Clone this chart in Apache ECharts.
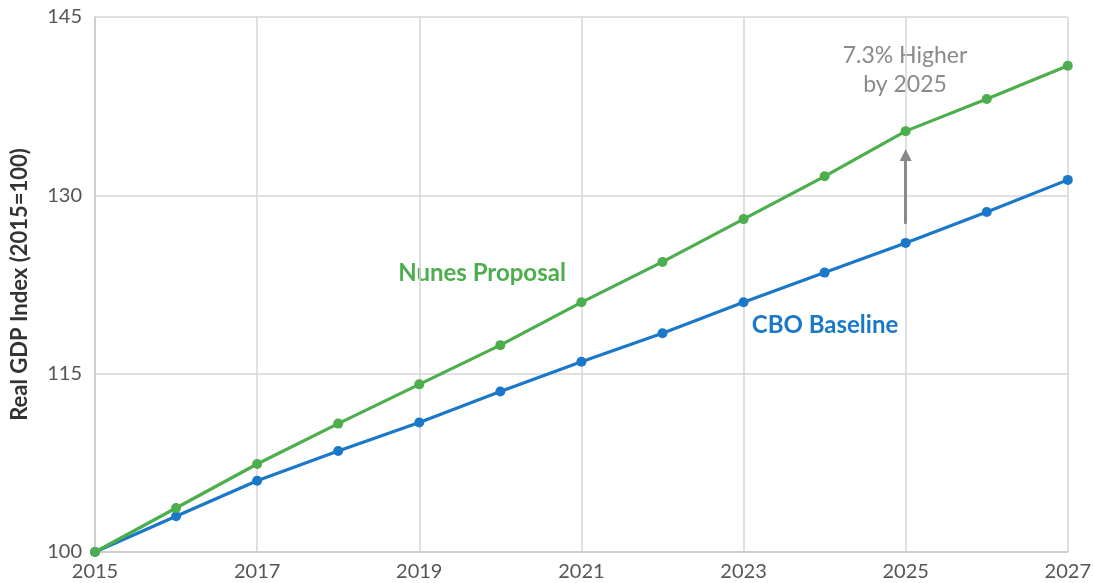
<!DOCTYPE html>
<html><head><meta charset="utf-8">
<script src="https://cdn.jsdelivr.net/npm/echarts@6/dist/echarts.min.js"></script>
<style>html,body{margin:0;padding:0;background:#fff}#c{width:1094px;height:583px}</style>
</head><body><div id="c"></div>
<script>
const years = [2015,2016,2017,2018,2019,2020,2021,2022,2023,2024,2025,2026,2027];
const nunes = [100,103.7,107.4,110.8,114.1,117.4,121.0,124.4,128.0,131.6,135.4,138.1,140.9];
const cbo   = [100,103.0,106.0,108.5,110.9,113.5,116.0,118.4,121.0,123.5,126.0,128.6,131.3];
const yTicks = [100,115,130,145];
const green = '#4cae4c', blue = '#1b78c9', gray = '#8a8a8a';
const chart = echarts.init(document.getElementById('c'));
chart.setOption({
  animation:false,
  textStyle:{fontFamily:'Lato'},
  grid:{left:95,right:26,top:17,bottom:31},
  xAxis:{type:'value',min:2015,max:2027,interval:2,
    axisLine:{show:true,lineStyle:{color:'#c8c8c8',width:1.5}},
    axisTick:{show:false},
    splitLine:{show:true,lineStyle:{color:'#d6d6d6',width:1.5}},
    axisLabel:{color:'#555',fontSize:20,margin:10,fontFamily:'Lato',formatter:v=>String(v)}},
  yAxis:{type:'value',min:100,max:145,interval:15,
    name:'Real GDP Index (2015=100)',nameLocation:'middle',nameGap:64,
    nameTextStyle:{fontSize:22,fontWeight:'bold',color:'#333',fontFamily:'Lato'},
    axisLine:{show:true,lineStyle:{color:'#c8c8c8',width:1.5}},
    axisTick:{show:false},
    splitLine:{show:true,lineStyle:{color:'#d6d6d6',width:1.5}},
    axisLabel:{color:'#555',fontSize:20,margin:13,fontFamily:'Lato',formatter:v=>yTicks.includes(v)?String(v):''}},
  series:[
    {name:'CBO Baseline',type:'line',data:years.map((y,i)=>[y,cbo[i]]),
      symbol:'circle',symbolSize:10,lineStyle:{color:blue,width:3.2},itemStyle:{color:blue},z:3},
    {name:'Nunes Proposal',type:'line',data:years.map((y,i)=>[y,nunes[i]]),
      symbol:'circle',symbolSize:10,lineStyle:{color:green,width:3.2},itemStyle:{color:green},z:4,
      markLine:{silent:true,symbol:['none','triangle'],symbolSize:[12,12],
        lineStyle:{color:gray,width:3,type:'solid'},label:{show:false},
        data:[[{coord:[2025,127.6]},{coord:[2025,133.4]}]]}}
  ],
  graphic:[
    {type:'text',x:482,y:273,style:{text:'Nunes Proposal',fill:green,fontSize:24,fontWeight:'bold',fontFamily:'Lato',align:'center',verticalAlign:'middle'}},
    {type:'text',x:825,y:325,style:{text:'CBO Baseline',fill:blue,fontSize:24,fontWeight:'bold',fontFamily:'Lato',align:'center',verticalAlign:'middle'}},
    {type:'text',x:905,y:56,style:{text:'7.3% Higher',fill:gray,fontSize:23,fontFamily:'Lato',align:'center',verticalAlign:'middle'}},
    {type:'text',x:905,y:85,style:{text:'by 2025',fill:gray,fontSize:23,fontFamily:'Lato',align:'center',verticalAlign:'middle'}}
  ]
});
</script></body></html>
